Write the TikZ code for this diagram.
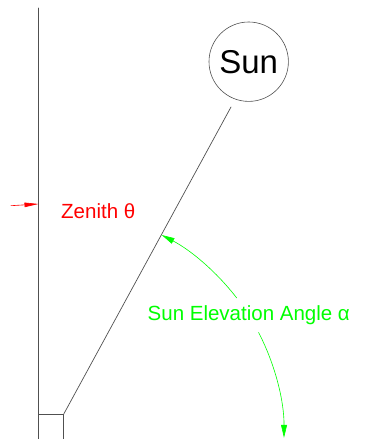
\documentclass[tikz,border=0pt]{standalone}
\usepackage{fontspec}
\setmainfont{Liberation Sans}
\usepackage{xcolor}
\usetikzlibrary{arrows.meta,positioning,calc}
\definecolor{frame}{HTML}{505050}
\definecolor{zenred}{HTML}{FF0000}
\definecolor{elevgreen}{HTML}{00FF00}
\tikzset{
    every picture/.style={line cap=round,line join=round},
    frameline/.style={draw=frame,line width=0.7pt},
    sunnode/.style={draw=frame,circle,line width=0.6pt,minimum size=79.4pt,
      inner sep=0pt,font=\fontsize{33}{36}\selectfont},
    anglelabel/.style={inner sep=0pt,anchor=base west,
      font=\fontsize{20.5}{24}\selectfont},
    zenarrow/.style={-{Triangle[length=14pt,width=4.5pt]},draw=zenred,
      line width=0.6pt},
    elevarrow/.style={-{Triangle[length=13pt,width=6pt]},draw=elevgreen,
      line width=0.6pt}
}
\begin{document}
\begin{tikzpicture}[x=1pt,y=1pt]
  \useasboundingbox (0,0) rectangle (369,439);
  % ground, zenith axis and sun ray
  \coordinate (base) at (38.5,0);
  \coordinate (top) at (38.5,431);
  \coordinate (corner) at (63.5,24.5);
  \coordinate (beam) at (231,332);
  \draw[frameline] (base) -- (top);
  \draw[frameline] (base) rectangle (corner);
  \draw[frameline] (corner) -- (beam);
  \node[sunnode] (sun) at (248.7,377.3) {Sun};
  % zenith marker
  \coordinate (zentail) at (11,233.3);
  \coordinate (zentip) at (38.5,235);
  \draw[zenarrow] (zentail) -- (zentip);
  \node[anglelabel,text=zenred] (zenith) at (61,220.7) {Zenith θ};
  % elevation angle
  \coordinate (arcc) at (56,2);
  \draw[elevarrow] (arcc) ++(37.6:228) arc[start angle=37.6,end angle=62.4,radius=228];
  \draw[elevarrow] (arcc) ++(27.3:228) arc[start angle=27.3,end angle=-0.2,radius=228];
  \node[anglelabel,text=elevgreen] (elev) at (147.5,118) {Sun Elevation Angle α};
\end{tikzpicture}
\end{document}
